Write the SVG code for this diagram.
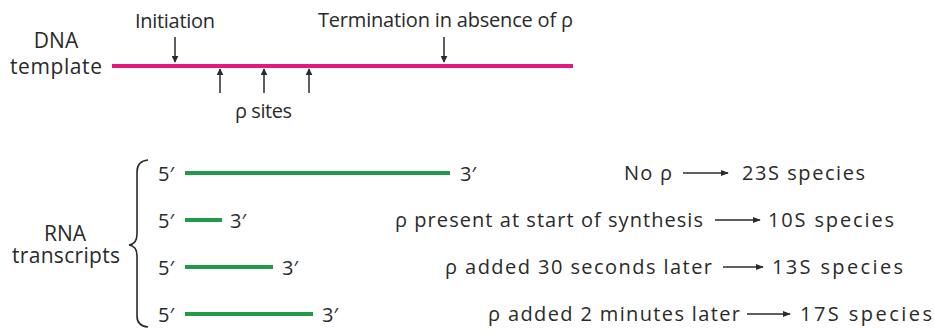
<svg xmlns="http://www.w3.org/2000/svg" width="934" height="333" viewBox="0 0 934 333">
<defs>
<style>
text{font-family:"Open Sans","Liberation Sans",sans-serif;fill:#2a2a2a;}
.lbl{font-size:20px;}
.big{font-size:21px;}
.dna{stroke:#e3187e;stroke-width:4;fill:none;}
.rna{stroke:#1e9a48;stroke-width:4;fill:none;}
.arr{stroke:#2a2a2a;stroke-width:1.5;fill:none;}
.brace{stroke:#2a2a2a;stroke-width:1.6;fill:none;}
</style>
<marker id="ah" viewBox="0 0 10 10" refX="9" refY="5" markerWidth="7" markerHeight="7" markerUnits="userSpaceOnUse" orient="auto">
<path d="M0,0 L10,5 L0,10 z" fill="#2a2a2a"/>
</marker>
<marker id="ah2" viewBox="0 0 10 10" refX="9" refY="5" markerWidth="8" markerHeight="8" markerUnits="userSpaceOnUse" orient="auto">
<path d="M0,1 L10,5 L0,9 z" fill="#2a2a2a"/>
</marker>
</defs>

<g id="dna-template">
<text class="big" x="56" y="48" text-anchor="middle">DNA</text>
<text class="big" x="10" y="74" textLength="92" lengthAdjust="spacing">template</text>
<line class="dna" x1="112" y1="66" x2="573" y2="66"/>
</g>

<g id="initiation">
<text class="lbl" x="135" y="28" textLength="80" lengthAdjust="spacing">Initiation</text>
</g>

<g id="termination">
<text class="lbl" x="318" y="27" textLength="255" lengthAdjust="spacing">Termination in absence of ρ</text>
</g>

<g id="rho-sites">
<text class="lbl" x="235" y="118" textLength="57" lengthAdjust="spacing">ρ sites</text>
</g>

<g id="rna-transcripts">
<text class="big" x="65" y="241" text-anchor="middle">RNA</text>
<text class="big" x="12" y="263" textLength="108" lengthAdjust="spacing">transcripts</text>
<path class="brace" d="M148,160 Q137,161 137,172 L137,234 Q137,244 129,245 Q137,246 137,256 L137,316 Q137,326 148,327"/>
</g>

<g id="row1">
<text class="lbl" x="158" y="181">5′</text>
<line class="rna" x1="185" y1="173" x2="450" y2="173"/>
<text class="lbl" x="460" y="181">3′</text>
<text class="lbl" x="624" y="180" textLength="48" lengthAdjust="spacing">No ρ</text>
<text class="lbl" x="742" y="180" textLength="123" lengthAdjust="spacing">23S species</text>
</g>

<g id="row2">
<text class="lbl" x="158" y="228">5′</text>
<line class="rna" x1="185" y1="220" x2="222" y2="220"/>
<text class="lbl" x="230" y="228">3′</text>
<text class="lbl" x="395" y="227" textLength="308" lengthAdjust="spacing">ρ present at start of synthesis</text>
<text class="lbl" x="768" y="227" textLength="126" lengthAdjust="spacing">10S species</text>
</g>

<g id="row3">
<text class="lbl" x="158" y="275">5′</text>
<line class="rna" x1="185" y1="267" x2="273" y2="267"/>
<text class="lbl" x="282" y="275">3′</text>
<text class="lbl" x="445" y="274" textLength="267" lengthAdjust="spacing">ρ added 30 seconds later</text>
<text class="lbl" x="772" y="274" textLength="131" lengthAdjust="spacing">13S species</text>
</g>

<g id="row4">
<text class="lbl" x="158" y="322">5′</text>
<line class="rna" x1="185" y1="314" x2="313" y2="314"/>
<text class="lbl" x="322" y="322">3′</text>
<text class="lbl" x="488" y="321" textLength="252" lengthAdjust="spacing">ρ added 2 minutes later</text>
<text class="lbl" x="800" y="321" textLength="132" lengthAdjust="spacing">17S species</text>
</g>

<g id="connectors">
<line class="arr" x1="175" y1="37" x2="175" y2="62" marker-end="url(#ah)"/>
<line class="arr" x1="444" y1="37" x2="444" y2="62" marker-end="url(#ah)"/>
<line class="arr" x1="220" y1="93" x2="220" y2="69" marker-end="url(#ah)"/>
<line class="arr" x1="264" y1="93" x2="264" y2="69" marker-end="url(#ah)"/>
<line class="arr" x1="309" y1="93" x2="309" y2="69" marker-end="url(#ah)"/>
<line class="arr" x1="683" y1="173" x2="728" y2="173" marker-end="url(#ah2)"/>
<line class="arr" x1="715" y1="220" x2="760" y2="220" marker-end="url(#ah2)"/>
<line class="arr" x1="723" y1="267" x2="763" y2="267" marker-end="url(#ah2)"/>
<line class="arr" x1="747" y1="314" x2="790" y2="314" marker-end="url(#ah2)"/>
</g>
</svg>
